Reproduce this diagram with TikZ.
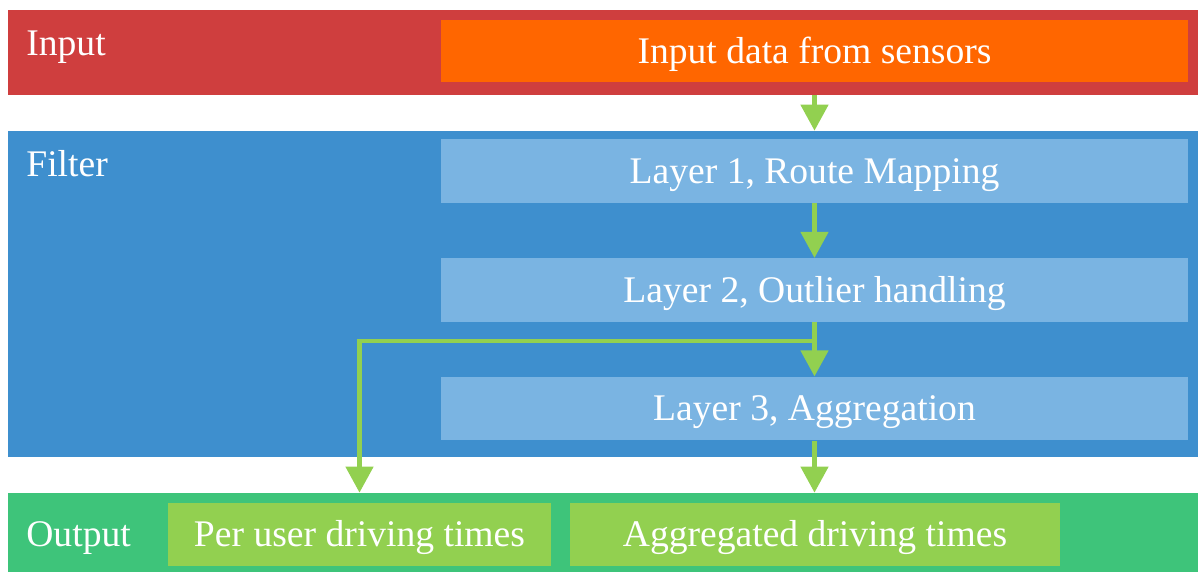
\documentclass[tikz,border=0pt]{standalone}
\usepackage{fontspec}
\setmainfont{Liberation Serif}
\usetikzlibrary{arrows.meta,calc}

\definecolor{inred}{HTML}{CF3E3E}
\definecolor{inorange}{HTML}{FF6600}
\definecolor{filterblue}{HTML}{3E8FCE}
\definecolor{layerblue}{HTML}{7AB4E2}
\definecolor{outgreen}{HTML}{3EC47A}
\definecolor{boxgreen}{HTML}{92D050}

\tikzset{
  band/.style={rectangle,inner sep=0,minimum width=23.8cm},
  bandlabel/.style={anchor=base west,inner sep=0,text=white,font=\fontsize{21.4}{26}\selectfont},
  stagebox/.style={rectangle,inner sep=0,text=white,font=\fontsize{21.4}{26}\selectfont,
    text height=0.5cm,text depth=0.02cm,minimum height=1.27cm},
  flow/.style={draw=boxgreen,line width=2.6pt,-{Triangle[width=0.54cm,length=0.52cm]}}
}

\begin{document}
\begin{tikzpicture}[x=0.02cm,y=-0.02cm]
      \useasboundingbox (0,0) rectangle (1198,572);
      \def \Bands {
        inputband/52.5/1.7cm/inred/55/Input,
        filterband/294/6.52cm/filterblue/176/Filter,
        outputband/532.5/1.58cm/outgreen/546/Output}
      \def \Layers {
        l1/171/{Layer 1, Route Mapping},
        l2/290/{Layer 2, Outlier handling},
        l3/408.5/{Layer 3, Aggregation}}

      \foreach \id / \y / \h / \col / \base / \txt in \Bands {
        \node[band,fill=\col,minimum height=\h] (\id) at (603, \y) {};
        \node[bandlabel] (\id-label) at (26, \base) {\txt};
      }
      \node[stagebox,fill=inorange,minimum width=14.94cm,minimum height=1.24cm] (in) at (814.5, 51) {Input data from sensors};
      \foreach \id / \y / \txt in \Layers {
        \node[stagebox,fill=layerblue,minimum width=14.94cm] (\id) at (814.5, \y) {\txt};
      }
      \node[stagebox,fill=boxgreen,minimum width=7.66cm] (peruser) at (359.5, 534.5) {Per user driving times};
      \node[stagebox,fill=boxgreen,minimum width=9.8cm] (aggr) at (815, 534.5) {Aggregated driving times};

      \coordinate (split) at ($(l2.south)!0.35!(l3.north)$);
      \draw[flow] (inputband.south -| in) -- (filterband.north -| in);
      \draw[flow] (l1) -- (l2);
      \draw[flow] (l2) -- (l3);
      \draw[flow] (split) -| (outputband.north -| peruser);
      \draw[flow] (l3) -- (outputband.north -| l3);
    \end{tikzpicture}
\end{document}
